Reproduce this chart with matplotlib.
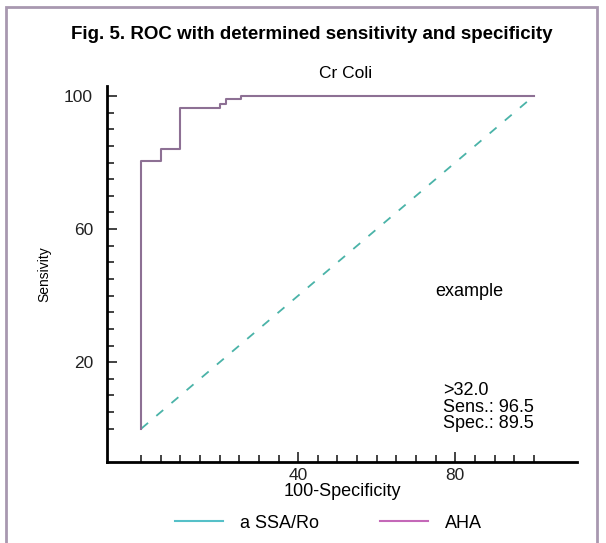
import numpy as np
from matplotlib import pyplot as plt
from matplotlib.lines import Line2D
from matplotlib.patches import Rectangle

plt.rcParams['font.family'] = ['Liberation Sans', 'DejaVu Sans']

# ROC step curve (100-specificity, sensitivity)
roc_x = [0, 0, 5, 5, 10, 10, 20, 20, 21.5, 21.5, 25.5, 25.5, 100]
roc_y = [0, 80.5, 80.5, 84, 84, 96.5, 96.5, 97.5, 97.5, 99, 99, 100, 100]
diag_x = [0, 100]
diag_y = [0, 100]

x_major = [40, 80]
y_major = [20, 60, 100]
legend_labels = ['a SSA/Ro', 'AHA']
cutoff_text = ['>32.0', 'Sens.: 96.5', 'Spec.: 89.5']

fig = plt.figure(figsize=(6.06, 5.43), dpi=100)
W, H = 606, 543

# light purple frame around the figure
fig.patches.append(Rectangle((6 / W, -0.05), 591 / W, 1 - 7 / H + 0.05,
                             transform=fig.transFigure, fill=False,
                             edgecolor='#a898b0', lw=2))

ax = fig.add_axes([107 / W, 1 - 462 / H, 470 / W, 376 / H])
ax.plot(diag_x, diag_y, color='#4ab3a8', ls=(0, (5, 6)), lw=1.3)
ax.plot(roc_x, roc_y, color='#8d7094', lw=1.5)

ax.set_xlim(-8.7, 111)
ax.set_ylim(-10, 103)
for s in ['top', 'right']:
    ax.spines[s].set_visible(False)
for s in ['left', 'bottom']:
    ax.spines[s].set_linewidth(2)

ax.set_xticks(x_major)
ax.set_yticks(y_major)
ax.set_xticks(np.arange(0, 101, 5), minor=True)
ax.set_yticks(np.arange(0, 101, 5), minor=True)
ax.tick_params(which='both', direction='in', width=1.2, labelsize=12.5, colors='#222222')
ax.tick_params(which='major', length=7)
ax.tick_params(which='minor', length=5)
ax.tick_params(axis='y', pad=10)
ax.tick_params(axis='x', pad=4)

ax.set_xlabel('100-Specificity', fontsize=13, labelpad=0)
ax.set_ylabel('Sensivity', fontsize=10, labelpad=9)

ax.text(52, 106.9, 'Cr Coli', fontsize=12.5, ha='center', va='center')
ax.text(83.5, 41.1, 'example', fontsize=13, ha='center', va='center')
ax.text(76.8, 6.5, '\n'.join(cutoff_text), fontsize=13, ha='left', va='center',
        linespacing=0.98)

fig.text(0.515, 1 - 35 / H, 'Fig. 5. ROC with determined sensitivity and specificity',
         fontsize=13.5, fontweight='bold', ha='center', va='center')

handles = [Line2D([], [], color='#55c0c8', lw=1.5),
           Line2D([], [], color='#c468b8', lw=1.5)]
fig.legend(handles, legend_labels, loc='center', bbox_to_anchor=(0.542, 1 - 523 / H),
           ncol=2, frameon=False, fontsize=13, handlelength=2.65,
           handletextpad=0.94, columnspacing=3.4)

fig.savefig('out.png', dpi=100)
